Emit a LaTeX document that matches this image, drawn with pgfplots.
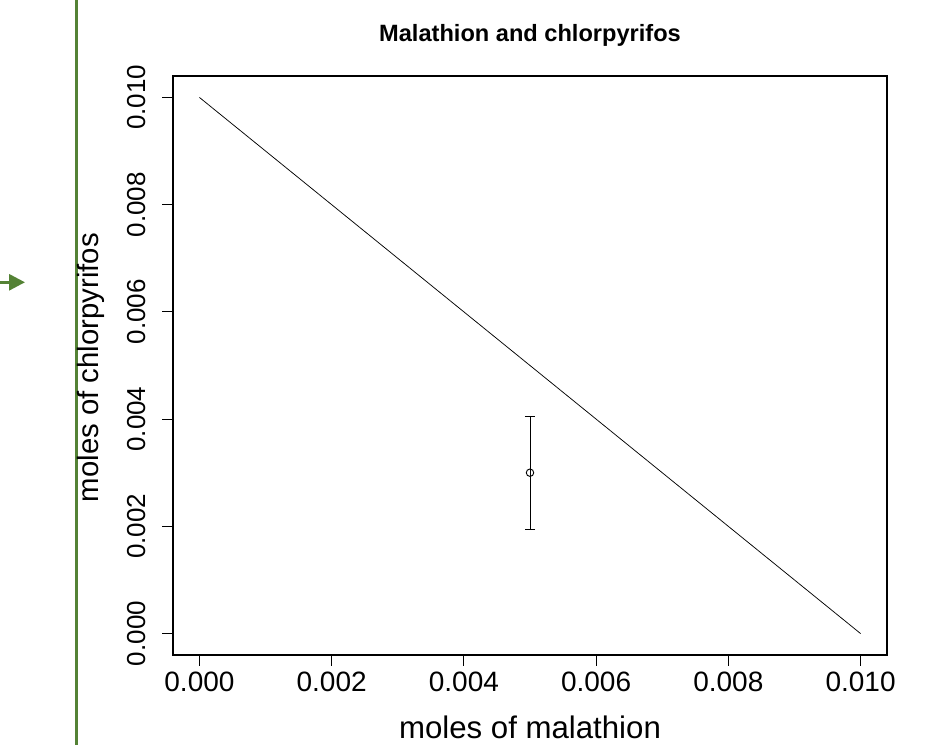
\documentclass[border=0pt]{standalone}
\usepackage{fontspec}
\setmainfont{Liberation Sans}
\usepackage{pgfplots}
\pgfplotsset{compat=1.18}
\usetikzlibrary{arrows.meta}

\definecolor{slidegreen}{HTML}{548235}

\begin{document}
\begin{tikzpicture}[x=0.75pt, y=0.75pt]
\useasboundingbox (0,0) rectangle (925,745);

% slide decorations outside the plot
\draw[slidegreen, line width=2pt] (76.5,0) -- (76.5,745);
\draw[slidegreen, line width=2.2pt, -{Triangle[length=12pt, width=12pt]}] (0,462.7) -- (25,462.7);

\begin{axis}[
  at={(129.75pt,67.5pt)}, anchor=south west,
  scale only axis, width=535.5pt, height=434.25pt,
  xmin=-0.0004, xmax=0.0104, ymin=-0.0004, ymax=0.0104,
  xtick={0,0.002,0.004,0.006,0.008,0.01},
  ytick={0,0.002,0.004,0.006,0.008,0.01},
  scaled ticks=false,
  /pgf/number format/.cd, fixed, fixed zerofill, precision=3, assume math mode=true,
  /pgfplots/.cd,
  tick align=outside, xtick pos=bottom, ytick pos=left,
  major tick length=8pt,
  tick style={black, line width=0.8pt},
  axis line style={black, line width=0.8pt},
  xticklabel style={font=\fontsize{21}{25}\selectfont, anchor=base, inner sep=0pt, yshift=-19.5pt},
  yticklabel style={font=\fontsize{19.5}{23}\selectfont, xshift=-13pt, rotate=90, anchor=base, inner sep=0pt},
  title={\textbf{Malathion and chlorpyrifos}},
  title style={font=\fontsize{17.7}{21}\selectfont, at={(axis description cs:0.5,1.0455)}, anchor=base},
  xlabel={moles of malathion},
  xlabel style={font=\fontsize{23.4}{28}\selectfont, at={(axis description cs:0.5,-0.1435)}, anchor=base},
  ylabel={moles of chlorpyrifos},
  ylabel style={font=\fontsize{22}{26}\selectfont, at={(axis description cs:-0.105,0.4965)}, anchor=base, rotate=0},
]
\addplot[black, line width=0.55pt, no marks] coordinates {(0,0.01) (0.01,0)};
\addplot[black, line width=0.75pt, mark=o, mark size=2.8pt, mark options={line width=0.7pt},
  error bars/.cd, y dir=both, y explicit,
  error bar style={line width=0.75pt},
  error mark options={rotate=90, mark size=3.8pt, line width=0.75pt}]
  coordinates {(0.005,0.003) +- (0,0.00105)};
\end{axis}
\end{tikzpicture}
\end{document}
